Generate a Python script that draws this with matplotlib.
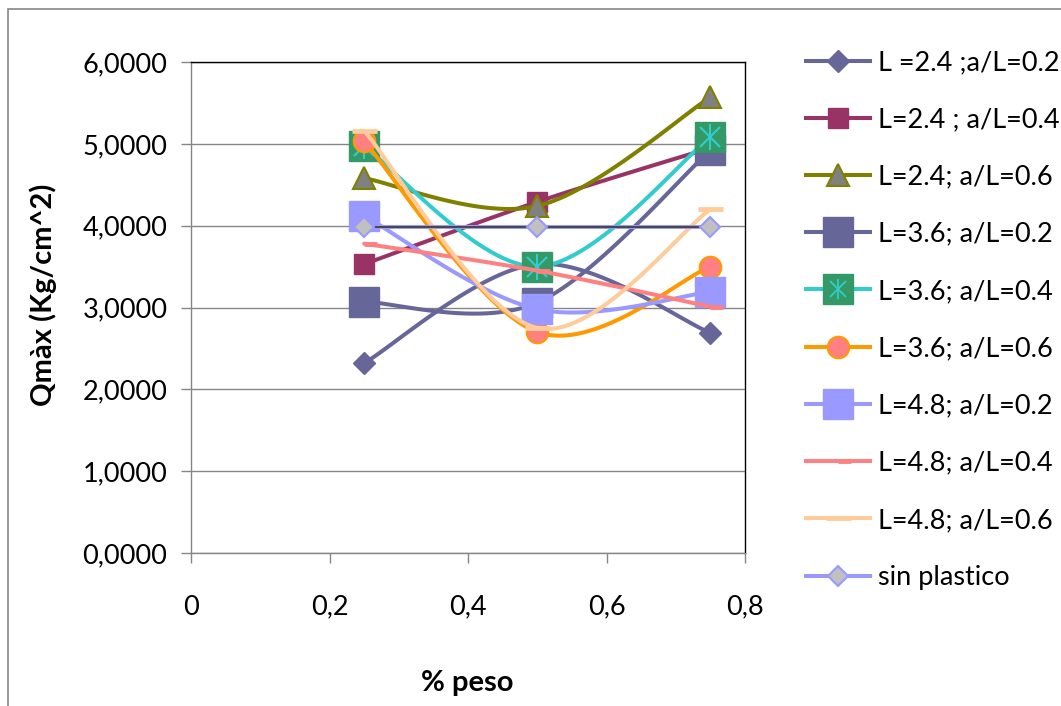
import numpy as np
import matplotlib.pyplot as plt
from matplotlib.path import Path
from matplotlib.patches import Rectangle

plt.rcParams['font.family'] = ['Lato', 'DejaVu Sans']

# % peso
peso = [0.25, 0.5, 0.75]

labels = ['L =2.4 ;a/L=0.2', 'L=2.4 ; a/L=0.4', 'L=2.4; a/L=0.6',
          'L=3.6; a/L=0.2', 'L=3.6; a/L=0.4', 'L=3.6; a/L=0.6',
          'L=4.8; a/L=0.2', 'L=4.8; a/L=0.4', 'L=4.8; a/L=0.6',
          'sin plastico']

q_24_02 = [2.32, 3.53, 2.69]
q_24_04 = [3.53, 4.29, 4.95]
q_24_06 = [4.58, 4.24, 5.57]
q_36_02 = [3.07, 3.06, 4.92]
q_36_04 = [4.97, 3.50, 5.08]
q_36_06 = [5.03, 2.70, 3.50]
q_48_02 = [4.12, 2.98, 3.19]
q_48_04 = [3.78, 3.45, 3.01]
q_48_06 = [5.16, 2.75, 4.20]
q_sin = [3.98, 3.98, 3.98]

yticks = [0, 1, 2, 3, 4, 5, 6]
xticks = [0, 0.2, 0.4, 0.6, 0.8]

FS = 19.5


def smooth(x, y, n=50):
    # excel-style smoothed line: cubic bezier through the points
    P = np.column_stack([x, y]).astype(float)
    Pm = np.vstack([P[:1], P, P[-1:]])
    t = np.linspace(0, 1, n)[:, None]
    segs = []
    for i in range(len(P) - 1):
        p0, p3 = P[i], P[i + 1]
        p1 = p0 + (Pm[i + 2] - Pm[i]) / 6
        p2 = p3 - (Pm[i + 3] - Pm[i + 1]) / 6
        segs.append((1 - t)**3 * p0 + 3 * (1 - t)**2 * t * p1
                    + 3 * (1 - t) * t**2 * p2 + t**3 * p3)
    s = np.vstack(segs)
    return s[:, 0], s[:, 1]


half_dash = Path([[0, 0], [1, 0]])

styles = [
    dict(color='#666699', marker='D', ms=11.5, mfc='#666699', mec='#666699'),
    dict(color='#993366', marker='s', ms=15, mfc='#993366', mec='#993366'),
    dict(color='#808000', marker='^', ms=16, mfc='#808080', mec='#808000', mew=1.5),
    dict(color='#666699', marker='s', ms=21.5, mfc='#666699', mec='#666699'),
    dict(color='#33CCCC', marker='s', ms=21.5, mfc='#339966', mec='#339966'),
    dict(color='#FF9900', marker='o', ms=15.5, mfc='#FF8080', mec='#FF9900', mew=1.5),
    dict(color='#9999FF', marker='s', ms=21.5, mfc='#9999FF', mec='#9999FF'),
    dict(color='#FF8080', marker=half_dash, ms=19, mec='#FF8080', mew=3.5),
    dict(color='#FFCC99', marker='_', ms=18, mec='#FFCC99', mew=3.5),
    dict(color='#9999FF', marker='D', ms=10, mfc='#C0C0C0', mec='#9999FF', mew=1.5),
]
series = [q_24_02, q_24_04, q_24_06, q_36_02, q_36_04, q_36_06,
          q_48_02, q_48_04, q_48_06, q_sin]

fig = plt.figure(figsize=(10.61, 7.06), dpi=100)
ax = fig.add_axes([191 / 1061, 1 - 553 / 706, 554 / 1061, 491 / 706])

handles = []
for k, (y, st) in enumerate(zip(series, styles)):
    z = 3 + k
    sx, sy = smooth(peso, y)
    ax.plot(sx, sy, color=st['color'], lw=2.9, solid_capstyle='round', zorder=z)
    mk = {kk: v for kk, v in st.items() if kk != 'color'}
    ax.plot(peso, y, ls='none', zorder=z + 0.5, **mk)
    h = plt.Line2D([], [], color=st['color'], lw=2.9, **mk)
    if k == 4:
        # asterisk drawn inside the green square
        ax.plot(peso, y, ls='none', marker='x', ms=14, mew=1.5, mec='#33CCCC', zorder=z + 0.6)
        ax.plot(peso, y, ls='none', marker='|', ms=19, mew=1.5, mec='#33CCCC', zorder=z + 0.6)
        h = (h, plt.Line2D([], [], ls='none', marker='x', ms=11, mew=1.3, mec='#33CCCC'),
             plt.Line2D([], [], ls='none', marker='|', ms=15, mew=1.3, mec='#33CCCC'))
    if k == 9:
        ax.plot(peso, y, color='#404040', lw=1.3, zorder=z + 0.3)
    handles.append(h)

ax.set_xlim(0, 0.8)
ax.set_ylim(0, 6)
ax.set_xticks(xticks)
ax.set_yticks(yticks)
ax.set_xticklabels(['0' if v == 0 else f'{v:.1f}'.replace('.', ',') for v in xticks])
ax.set_yticklabels([f'{v:.4f}'.replace('.', ',') for v in yticks])
ax.tick_params(axis='both', direction='out', length=7, width=1, color='#868686',
               labelsize=FS)
ax.tick_params(axis='y', pad=10)
ax.tick_params(axis='x', pad=23)
ax.grid(axis='y', color='#868686', lw=1)
ax.set_axisbelow(True)
for s in ['left', 'bottom']:
    ax.spines[s].set_color('#868686')
for s in ['top', 'right']:
    ax.spines[s].set_color('black')
for s in ax.spines.values():
    s.set_linewidth(1)

fig.text(43 / 1061, 1 - 295 / 706, 'Qmàx (Kg/cm^2)', rotation=90, ha='center',
         va='center', fontsize=21, fontweight='bold')
fig.text(467 / 1061, 1 - 683 / 706, '% peso', ha='center', va='center',
         fontsize=21, fontweight='bold')

fig.legend(handles, labels, loc='upper left', bbox_to_anchor=(806 / 1061, 1 - 50 / 706),
           frameon=False, fontsize=FS, handlelength=2.35, handletextpad=0.3,
           labelspacing=1.19, borderpad=0, borderaxespad=0)

# outer chart border
fig.patches.append(Rectangle((8 / 1061, -0.1), 1.2, 1.1 - 9 / 706, transform=fig.transFigure,
                             fill=False, ec='#868686', lw=1.2))

fig.savefig('out.png', dpi=100)
